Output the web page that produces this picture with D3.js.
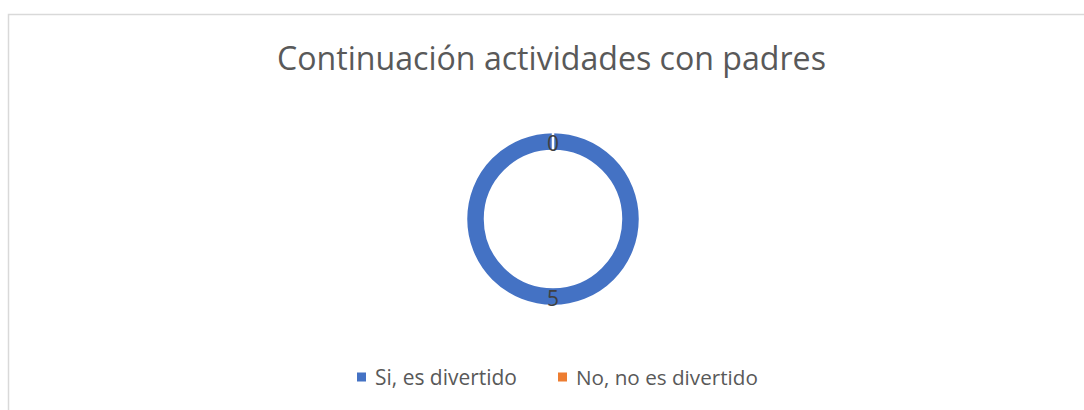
<!DOCTYPE html>
<html><head><meta charset="utf-8">
<script src="https://cdn.jsdelivr.net/npm/d3@7"></script>
<style>body{margin:0;background:#fff}svg{display:block}</style>
</head><body>
<svg id="c" width="1084" height="410"></svg>
<script>
const title = "Continuación actividades con padres";
const categories = ["Si, es divertido", "No, no es divertido"];
const values = [5, 0];
const colors = ["#4472C4", "#ED7D31"];

const svg = d3.select("#c");
const font = "'Open Sans', 'Liberation Sans', sans-serif";

// chart border
svg.append("path").attr("d", "M8.5,410 V14.5 H1084")
  .attr("fill", "none").attr("stroke", "#D9D9D9").attr("stroke-width", 1.5);

function fit(sel, target) {
  const w = sel.node().getComputedTextLength();
  const fs = parseFloat(sel.attr("font-size"));
  sel.attr("font-size", fs * target / w);
}

// title
const t = svg.append("text").text(title)
  .attr("x", 551.5).attr("y", 70).attr("text-anchor", "middle")
  .attr("font-family", font).attr("font-size", 30).attr("fill", "#595959");
fit(t, 549);

// donut
const cx = 553, cy = 219, outerR = 87, innerR = 68;
const pie = d3.pie().sort(null).value(d => d)(values);
const arc = d3.arc().innerRadius(innerR).outerRadius(outerR);
const g = svg.append("g").attr("transform", `translate(${cx},${cy})`);
g.selectAll("path.slice").data(pie).enter().append("path")
  .attr("class", "slice")
  .attr("d", arc)
  .attr("fill", (d, i) => colors[i])
  .attr("stroke", "#fff").attr("stroke-width", 2.5);

// data labels
const labelArc = d3.arc().innerRadius((innerR + outerR) / 2).outerRadius((innerR + outerR) / 2);
g.selectAll("text.lbl").data(pie).enter().append("text")
  .attr("class", "lbl")
  .attr("x", d => labelArc.centroid(d)[0])
  .attr("y", d => labelArc.centroid(d)[1] + 9.5)
  .attr("text-anchor", "middle")
  .attr("font-family", font).attr("font-size", 21).attr("fill", "#404040")
  .text(d => d.data);

// legend
const legX = [357, 558];
const leg = svg.append("g");
categories.forEach((c, i) => {
  leg.append("rect").attr("x", legX[i]).attr("y", 372.5).attr("width", 9).attr("height", 9)
    .attr("fill", colors[i]);
  const tx = leg.append("text").text(c)
    .attr("x", legX[i] + 18).attr("y", 385)
    .attr("font-family", font).attr("font-size", 18).attr("fill", "#595959");
  fit(tx, i === 0 ? 142 : 182);
});
</script>
</body></html>
